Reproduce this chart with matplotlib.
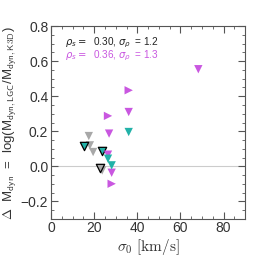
import matplotlib.pyplot as plt
import numpy as np
from matplotlib.ticker import MultipleLocator

# sigma_0 [km/s] and Delta M_dyn for each group of markers
mag_down_x = [68.3, 36.0, 26.9, 26.4, 28.1]
mag_down_y = [0.554, 0.31, 0.187, 0.067, -0.036]
mag_right_x = [36.0, 26.4, 28.1]
mag_right_y = [0.434, 0.288, -0.099]
teal_x = [36.0, 26.4, 28.1]
teal_y = [0.196, 0.044, 0.006]
gray_x = [17.5, 18.0, 19.5, 23.7]
gray_y = [0.173, 0.12, 0.082, -0.023]
teal_edge_x = [15.2, 23.4]
teal_edge_y = [0.116, 0.088]
gray_edge_x = [22.7]
gray_edge_y = [-0.008]

MAG = '#c957e0'
TEAL = '#22b2a8'
GRAY = '#a8a8a8'

plt.rcParams['font.family'] = 'Liberation Sans'
plt.rcParams['mathtext.fontset'] = 'cm'

fig = plt.figure(figsize=(2.58, 2.58), dpi=100)
ax = fig.add_axes([0.198, 0.151, 0.752, 0.748])

ax.axhline(0, color='#cccccc', lw=0.8, zorder=0)

S = 36
ax.scatter(gray_x, gray_y, marker='v', s=S, color=GRAY, edgecolors='none')
ax.scatter(gray_edge_x, gray_edge_y, marker='v', s=S, color=GRAY, edgecolors='black', linewidths=0.9)
ax.scatter(teal_edge_x, teal_edge_y, marker='v', s=S, color=TEAL, edgecolors='black', linewidths=0.9)
ax.scatter(mag_down_x, mag_down_y, marker='v', s=S, color=MAG, edgecolors='none')
ax.scatter(mag_right_x, mag_right_y, marker='>', s=S, color=MAG, edgecolors='none')
ax.scatter(teal_x, teal_y, marker='v', s=S, color=TEAL, edgecolors='none')

ax.set_xlim(0, 90)
ax.set_ylim(-0.3, 0.8)
ax.xaxis.set_major_locator(MultipleLocator(20))
ax.xaxis.set_minor_locator(MultipleLocator(5))
ax.yaxis.set_major_locator(MultipleLocator(0.2))
ax.yaxis.set_minor_locator(MultipleLocator(0.05))
ax.tick_params(which='both', direction='in', top=True, right=True,
               labelsize=10, labelcolor='#333333', color='#555555')
ax.tick_params(axis='x', pad=1.5)
ax.tick_params(axis='y', pad=2)
ax.tick_params(which='major', length=5)
ax.tick_params(which='minor', length=2.5)
for s in ax.spines.values():
    s.set_color('#555555')

ax.set_xlabel(r'$\sigma_0\ [\mathrm{km/s}]$', fontsize=11, color='#333333', labelpad=1)
ax.set_ylabel(r'$\Delta$  M$_{\mathsf{dyn}}$  =  log(M$_{\mathsf{dyn,LGC}}$/M$_{\mathsf{dyn,K3D}}$)',
              fontsize=9.5, color='#333333')
ax.yaxis.set_label_coords(-0.165, 0.5)

ax.text(0.07, 0.9, r'$\rho_s =$  0.30, $\sigma_\rho$  = 1.2', transform=ax.transAxes,
        fontsize=7.2, color='#222222', math_fontfamily='dejavusans')
ax.text(0.07, 0.835, r'$\rho_s =$  0.36, $\sigma_\rho$  = 1.3', transform=ax.transAxes,
        fontsize=7.2, color=MAG, math_fontfamily='dejavusans')

fig.savefig('out.png', dpi=100)
